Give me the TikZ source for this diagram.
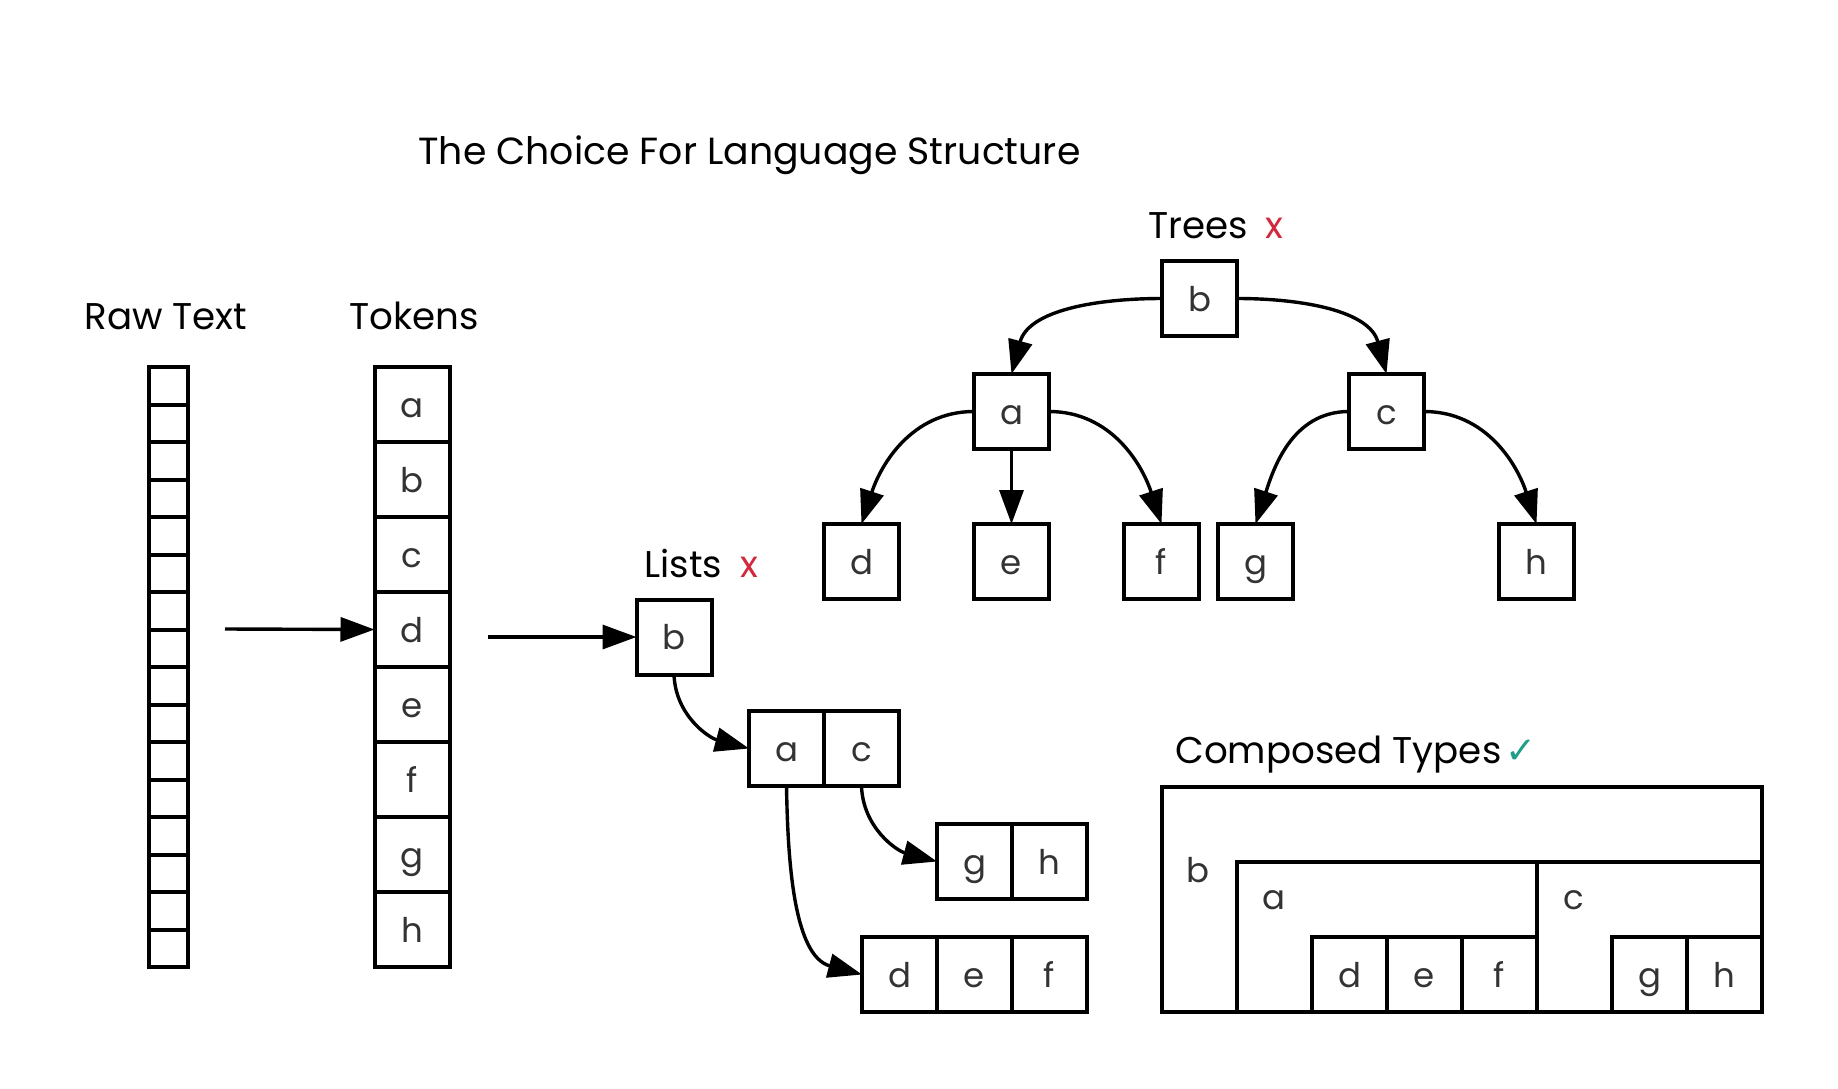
\documentclass[tikz,border=0pt]{standalone}
\usepackage{fontspec}
\setmainfont{Poppins}
\newfontfamily\symfont{DejaVu Sans}
\usetikzlibrary{arrows.meta,positioning}
\definecolor{ink}{HTML}{333333}
\definecolor{crossred}{HTML}{D1293D}
\definecolor{tickgreen}{HTML}{1E9E86}

\begin{document}
\begin{tikzpicture}[x=0.5pt,y=0.5pt,node distance=0pt,
  every node/.style={font=\fontsize{17}{20}\selectfont},
  cell/.style={draw,line width=2pt,outer sep=0pt,inner sep=0pt,minimum size=37.5pt,text=ink,text height=12.8pt,text depth=0pt},
  rawcell/.style={draw,line width=2pt,outer sep=0pt,minimum width=19.5pt,minimum height=18.75pt},
  heading/.style={anchor=base west,inner sep=0pt,font=\fontsize{18.6}{22}\selectfont},
  link/.style={-{Triangle[length=17pt,width=12pt]},line width=1.7pt}]
\useasboundingbox (0,0) rectangle (1838,-1088);

\node[heading,font=\fontsize{18.9}{22}\selectfont] (title) at (418,-164) {The Choice For Language Structure};

% raw text and tokens
\node[heading] (rawlbl) at (84,-329) {Raw Text};
\node[heading] (toklbl) at (349,-329) {Tokens};
\foreach \i in {1,...,16}
  \node[rawcell] (r\i) at (168.5,{-348.25-37.5*\i}) {};
\foreach \t [count=\i] in {a,...,h}
  \node[cell] (t\i) at (412,{-329.5-75*\i}) {\t};
\coordinate (rawout) at (225,-629);
\draw[link] (rawout) -- (t4.west);

% lists
\node[heading] (listlbl) at (644,-577) {Lists\hspace{9pt}\textcolor{crossred}{x}};
\coordinate (tokout) at (488,-637);
\node[cell] (lb) at (674,-637) {b};
\node[cell] (la) at (786.5,-748.5) {a};
\node[cell,right=of la] (lc) {c};
\node[cell] (lg) at (974.5,-861.5) {g};
\node[cell,right=of lg] (lh) {h};
\node[cell] (ld) at (899.5,-974.5) {d};
\node[cell,right=of ld] (le) {e};
\node[cell,right=of le] (lf) {f};
\draw[link] (tokout) -- (lb.west);
\draw[link] (lb.south) to[out=-88,in=165] (la.west);
\draw[link] (la.south) to[out=-89,in=165,looseness=0.9] (ld.west);
\draw[link] (lc.south) to[out=-88,in=165] (lg.west);

% trees
\node[heading] (treelbl) at (1148,-238) {Trees\hspace{9pt}\textcolor{crossred}{x}};
\node[cell] (tb) at (1199.5,-298.5) {b};
\node[cell] (ta) at (1011.5,-411.5) {a};
\node[cell] (tc) at (1386.5,-411.5) {c};
\node[cell] (td) at (861.5,-561.5) {d};
\node[cell] (te) at (1011.5,-561.5) {e};
\node[cell] (tf) at (1161.5,-561.5) {f};
\node[cell] (tg) at (1255.5,-561.5) {g};
\node[cell] (th) at (1536.5,-561.5) {h};
\draw[link] (tb.west) to[out=180,in=75] (ta.north);
\draw[link] (tb.east) to[out=0,in=105] (tc.north);
\draw[link] (ta.west) to[out=180,in=72] (td.north);
\draw[link] (ta.south) -- (te.north);
\draw[link] (ta.east) to[out=0,in=108] (tf.north);
\draw[link] (tc.west) to[out=180,in=72] (tg.north);
\draw[link] (tc.east) to[out=0,in=108] (th.north);

% composed types
\node[heading] (complbl) at (1175,-763) {Composed Types\hspace{2pt}{\symfont\color{tickgreen}✓}};
\node[cell,minimum width=300pt,minimum height=112.5pt] (comp) at (1462,-899.5) {};
\node[cell,minimum width=150pt,minimum height=75pt] (ca) at (1387,-937) {};
\node[cell,minimum width=112.5pt,minimum height=75pt] (cc) at (1649.5,-937) {};
\node[cell] (cd) at (1349.5,-974.5) {d};
\node[cell,right=of cd] (ce) {e};
\node[cell,right=of ce] (cf) {f};
\node[cell] (cg) at (1649.5,-974.5) {g};
\node[cell,right=of cg] (ch) {h};
\node[text=ink] (cbl) at (1198,-870) {b};
\node[text=ink] (cal) at (1274,-900) {a};
\node[text=ink] (ccl) at (1574,-900) {c};
\end{tikzpicture}
\end{document}
